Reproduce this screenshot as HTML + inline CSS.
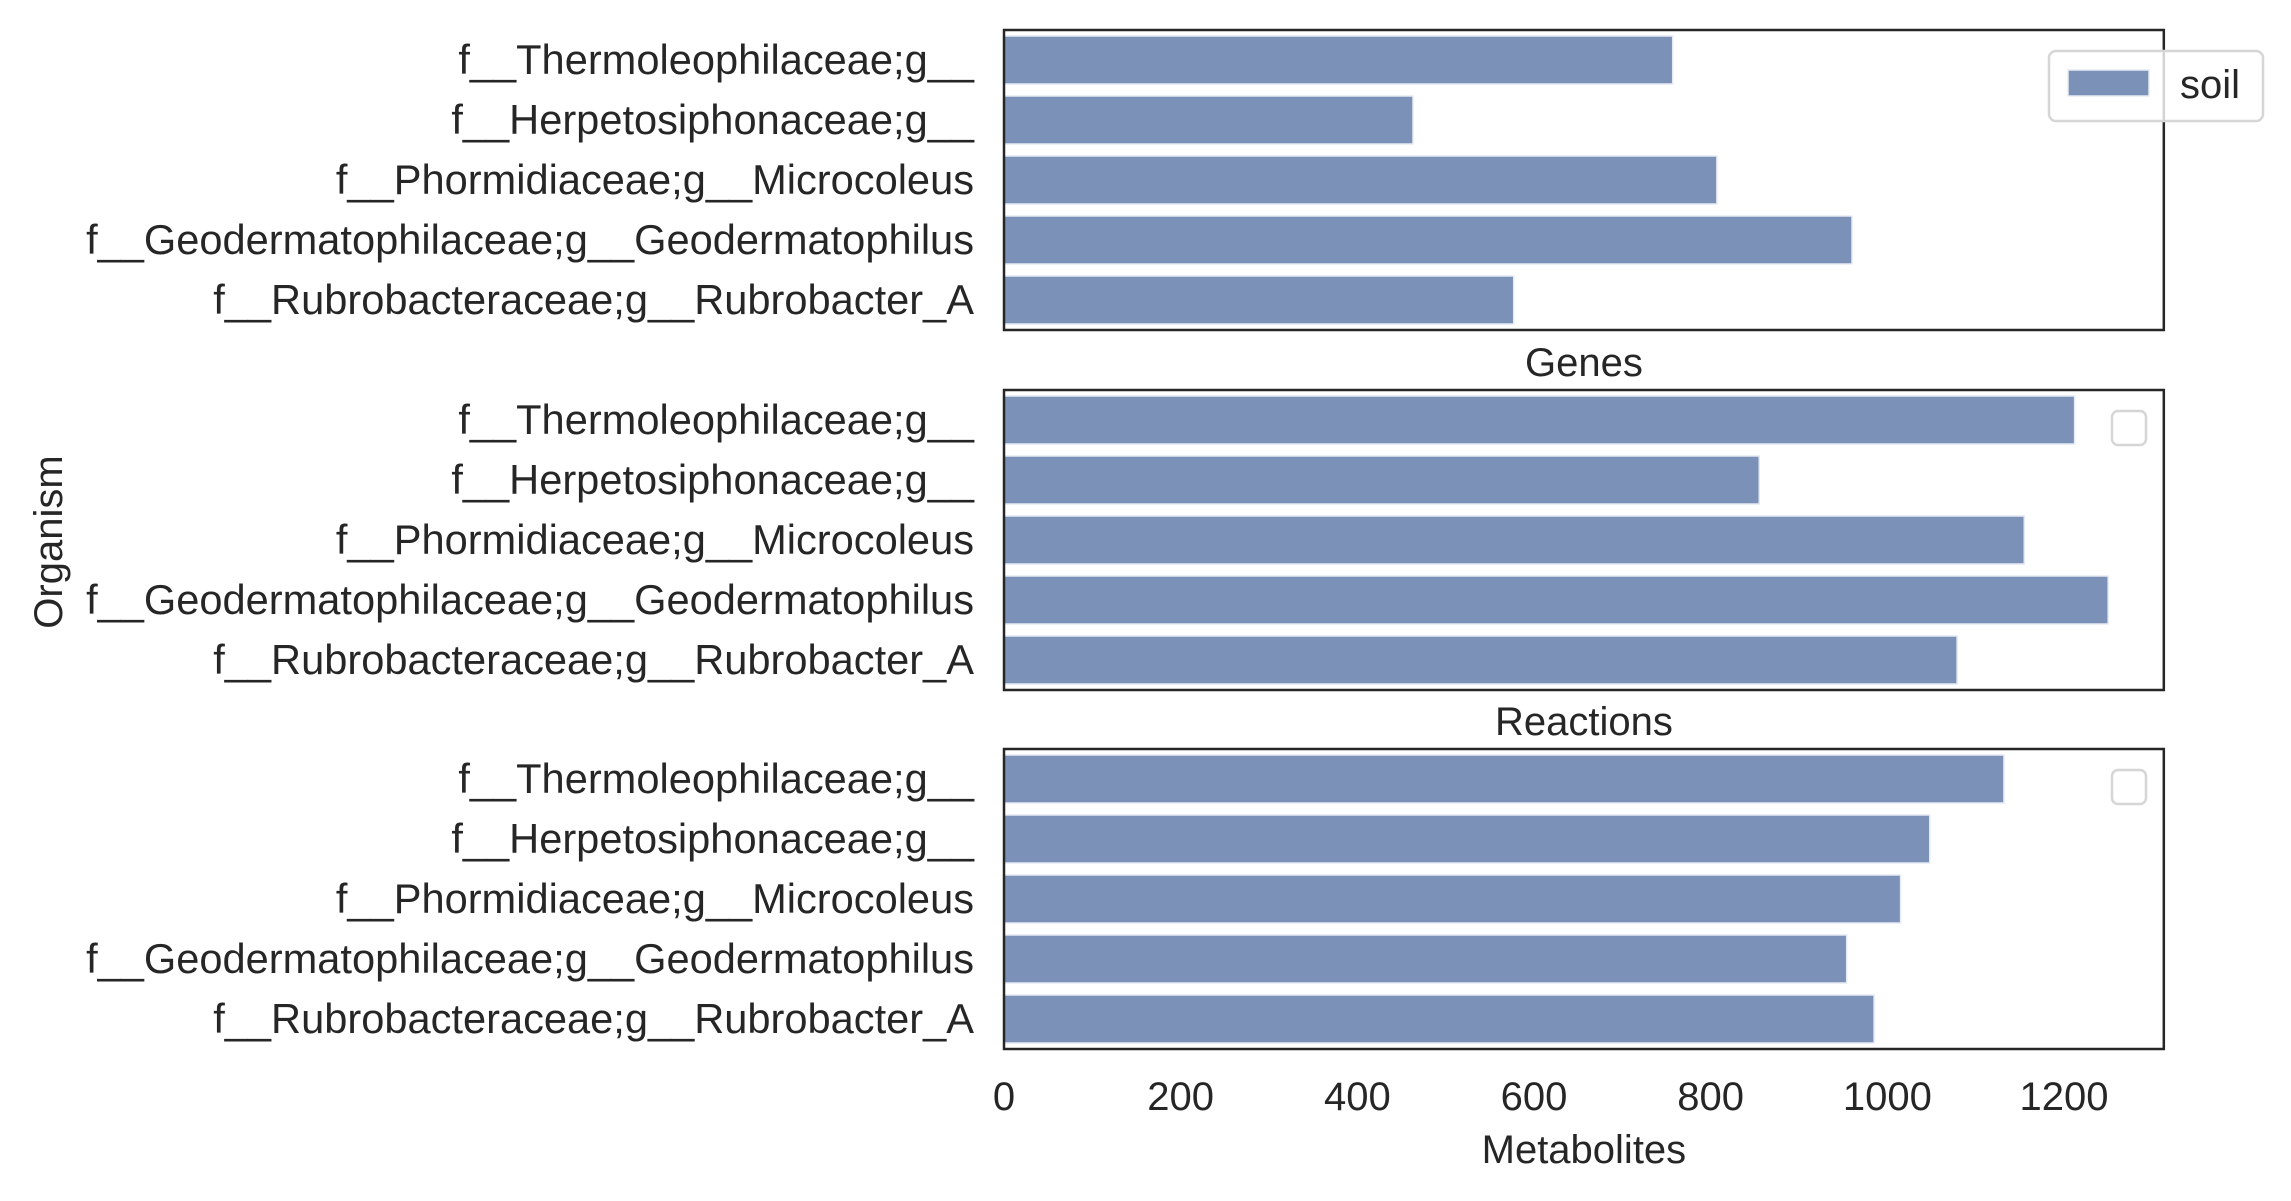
<!DOCTYPE html>
<html><head><meta charset="utf-8"><style>
html,body{margin:0;padding:0;background:#fff}
svg{display:block;font-family:"Liberation Sans",sans-serif}
</style></head><body>
<svg id="chart" width="2291" height="1201" viewBox="0 0 2291 1201" xmlns="http://www.w3.org/2000/svg"></svg>
<script>
const categories = ["f__Thermoleophilaceae;g__","f__Herpetosiphonaceae;g__","f__Phormidiaceae;g__Microcoleus","f__Geodermatophilaceae;g__Geodermatophilus","f__Rubrobacteraceae;g__Rubrobacter_A"];
const panelTitles = ["","Genes","Reactions"];
const metabolitesValues = [757,463,807,960,577];
const genesValues = [1212,855,1155,1250,1079];
const reactionsValues = [1132,1048,1015,954,985];
const xTicks = [0,200,400,600,800,1000,1200];
const seriesName = "soil";

const svg = document.getElementById('chart');
const NS = "http://www.w3.org/2000/svg";
const X0 = 1004, XMAX = 1313, PX_PER = (2064 - 1004) / 1200;
const X1 = X0 + XMAX * PX_PER;
const PH = 300, tops = [30,390,749];
function xs(v){ return X0 + PX_PER * v; }
function mk(tag, attrs, parent){ const e=document.createElementNS(NS,tag); for(const k in attrs) e.setAttribute(k,attrs[k]); (parent||svg).appendChild(e); return e; }

const panels = [metabolitesValues, genesValues, reactionsValues];
panels.forEach((vals, p) => {
  const top = tops[p];
  const band = PH / categories.length;
  const g = mk('g', {});
  
  
  vals.forEach((v, i) => {
    const cy = top + band * (i + 0.5);
    const r = mk('rect', {x: xs(0), y: cy - band*0.4, width: xs(v) - xs(0), height: band*0.8, fill: '#7b91b8', stroke: '#e6eaf2', 'stroke-width': 1.5}, g);
    
    
    const t = mk('text', {x: 974, y: cy + 14, 'text-anchor': 'end', 'font-size': 41.6, fill: '#262626'}, g);
    t.textContent = categories[i];
    
    
  });
  const fr = mk('rect', {x: X0, y: top, width: X1 - X0, height: PH, fill: 'none', stroke: '#262626', 'stroke-width': 2.5}, g);
  
  
  if (panelTitles[p]) {
    const tt = mk('text', {x: (X0 + X1) / 2, y: top - 14, 'text-anchor': 'middle', 'font-size': 40, fill: '#262626'});
    tt.textContent = panelTitles[p];
    
    
    const lb = mk('rect', {x: 2112, y: top + 21, width: 34, height: 34, rx: 6, fill: '#fff', stroke: '#d6d6d6', 'stroke-width': 2.5});
    
    
  }
});

// legend
const lg = mk('g', {});


mk('rect', {x: 2049, y: 51, width: 214, height: 70, rx: 7, fill: 'rgba(255,255,255,0.8)', stroke: '#d6d6d6', 'stroke-width': 2.5}, lg);
const lp = mk('rect', {x: 2068, y: 70, width: 81, height: 26, fill: '#7b91b8', stroke: '#e6eaf2', 'stroke-width': 1.5}, lg);


const lt = mk('text', {x: 2180, y: 98, 'font-size': 40, fill: '#262626'}, lg);
lt.textContent = seriesName;



// x ticks
xTicks.forEach(v => {
  const t = mk('text', {x: xs(v), y: 1110, 'text-anchor': 'middle', 'font-size': 40, fill: '#262626'});
  t.textContent = v;
  
  
});
const xt = mk('text', {x: (X0 + X1) / 2, y: 1163, 'text-anchor': 'middle', 'font-size': 40, fill: '#262626'});
xt.textContent = 'Metabolites';


const yt = mk('text', {x: 0, y: 0, 'text-anchor': 'middle', 'font-size': 40, fill: '#262626', transform: 'translate(62,542) rotate(-90)'});
yt.textContent = 'Organism';


</script>
</body></html>
